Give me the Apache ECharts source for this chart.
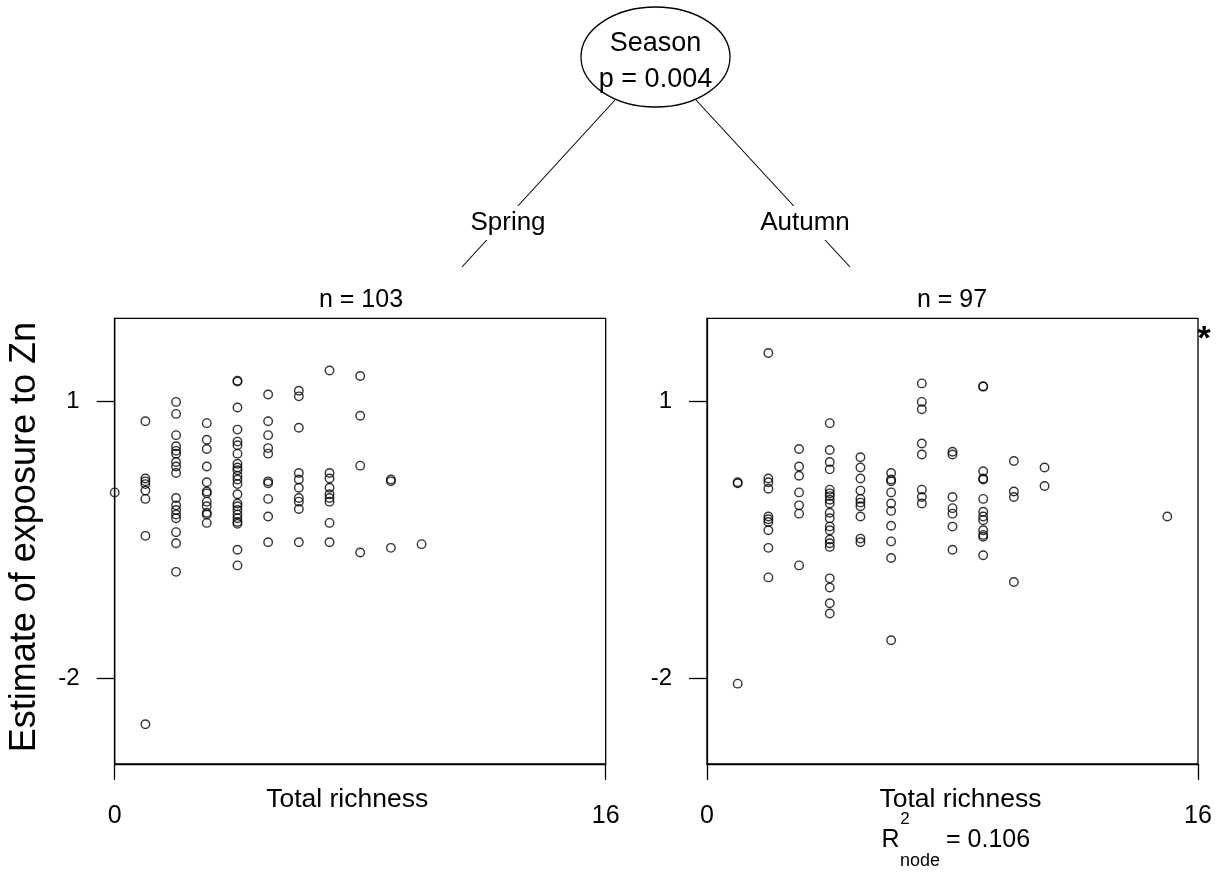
<!DOCTYPE html>
<html><head><meta charset="utf-8">
<script src="https://cdn.jsdelivr.net/npm/echarts@6/dist/echarts.min.js"></script>
<style>html,body{margin:0;padding:0;background:#fff}#c{width:1222px;height:877px}</style>
</head><body><div id="c"></div>
<script>
// ---- data ----
const xTicks = [0, 16];
const yTicks = [1, -2];
const springRichness = [0, 1, 2, 3, 4, 5, 6, 7, 8, 9, 10];
const springExposure = [
  [0.01],
  [0.78, 0.16, 0.13, 0.10, 0.03, -0.06, -0.46, -2.50],
  [0.99, 0.86, 0.63, 0.51, 0.46, 0.43, 0.34, 0.29, 0.22, -0.05, -0.13, -0.18, -0.23, -0.27, -0.42, -0.54, -0.85],
  [0.76, 0.58, 0.48, 0.29, 0.12, 0.02, 0.00, -0.09, -0.14, -0.21, -0.23, -0.32],
  [1.22, 1.21, 0.93, 0.69, 0.56, 0.52, 0.43, 0.32, 0.28, 0.25, 0.19, 0.15, 0.10, -0.01, -0.11, -0.14, -0.18, -0.23, -0.27, -0.31, -0.33, -0.61, -0.78],
  [1.07, 0.78, 0.63, 0.49, 0.43, 0.13, 0.11, -0.06, -0.25, -0.53],
  [1.11, 1.05, 0.71, 0.22, 0.15, 0.06, -0.05, -0.09, -0.17, -0.53],
  [1.33, 0.22, 0.16, 0.06, -0.01, -0.05, -0.09, -0.32, -0.53],
  [1.27, 0.84, 0.30, -0.64],
  [0.15, 0.13, -0.59],
  [-0.55]
];
const autumnRichness = [1, 2, 3, 4, 5, 6, 7, 8, 9, 10, 11, 15];
const autumnExposure = [
  [0.12, 0.11, -2.06],
  [1.52, 0.16, 0.12, 0.05, -0.25, -0.28, -0.31, -0.40, -0.59, -0.91],
  [0.48, 0.29, 0.19, 0.01, -0.13, -0.22, -0.78],
  [0.76, 0.47, 0.34, 0.26, 0.04, 0.00, -0.03, -0.07, -0.11, -0.21, -0.27, -0.36, -0.40, -0.50, -0.54, -0.58, -0.92, -1.02, -1.19, -1.30],
  [0.39, 0.28, 0.16, 0.03, -0.06, -0.10, -0.14, -0.25, -0.49, -0.53],
  [0.22, 0.15, 0.13, 0.01, -0.11, -0.19, -0.35, -0.52, -0.70, -1.59],
  [1.19, 0.99, 0.91, 0.54, 0.42, 0.04, -0.04, -0.11],
  [0.45, 0.42, -0.04, -0.16, -0.22, -0.36, -0.61],
  [1.16, 1.155, 0.24, 0.16, 0.15, -0.06, -0.20, -0.25, -0.29, -0.40, -0.45, -0.47, -0.67],
  [0.35, 0.02, -0.04, -0.96],
  [0.28, 0.08],
  [-0.25]
];
const nodeLabels = ['n = 103', 'n = 97'];
const splitLabels = ['Spring', 'Autumn'];

// ---- build ----
function pairs(xs, ys) {
  const out = [];
  xs.forEach((x, i) => ys[i].forEach(y => out.push([x, y])));
  return out;
}
const F = '"Liberation Sans", Arial, sans-serif';
const BLACK = '#000';

function grid(left) {
  return { left: left, top: 318.3, width: 491, height: 445.7, show: true,
    borderColor: BLACK, borderWidth: 1.3, backgroundColor: 'transparent',
    containLabel: false, outerBoundsMode: 'none' };
}
function xAxis(gi, pad) {
  return { gridIndex: gi, type: 'value', min: xTicks[0], max: xTicks[1], interval: xTicks[1] - xTicks[0],
    axisLine: { show: true, onZero: false, lineStyle: { color: BLACK, width: 1.3 } },
    axisTick: { show: true, length: 16, lineStyle: { color: BLACK, width: 1.3 } },
    axisLabel: { show: true, margin: 40, color: BLACK, fontSize: 25, fontFamily: F, showMinLabel: true, showMaxLabel: true },
    splitLine: { show: false },
    name: 'Total richness', nameLocation: 'middle', nameGap: 22, nameMoveOverlap: false,
    nameTextStyle: { color: BLACK, fontSize: 26.5, fontFamily: F, padding: pad } };
}
function yAxis(gi, withName) {
  const a = { gridIndex: gi, type: 'value', min: -2.93, max: 1.895,
    axisLine: { show: true, onZero: false, lineStyle: { color: BLACK, width: 1.3 } },
    axisTick: { show: true, length: 18, customValues: yTicks, lineStyle: { color: BLACK, width: 1.3 } },
    axisLabel: { show: true, margin: 35, customValues: yTicks, color: BLACK, fontSize: 24, fontFamily: F },
    splitLine: { show: false } };
  if (withName) {
    Object.assign(a, { name: 'Estimate of exposure to Zn', nameLocation: 'middle', nameGap: 72, nameRotate: 90,
      nameMoveOverlap: false, nameTextStyle: { color: BLACK, fontSize: 36, fontFamily: F, padding: [0, 0, 0, 8] } });
  }
  return a;
}
function scatter(i, data) {
  return { type: 'scatter', xAxisIndex: i, yAxisIndex: i, data: data, clip: false,
    symbol: 'circle', symbolSize: 8.5, silent: true,
    itemStyle: { color: 'rgba(0,0,0,0)', borderColor: BLACK, borderWidth: 1.4 } };
}
function txt(x, y, text, size, extra) {
  return Object.assign({ type: 'text', x: x, y: y, z: 10,
    style: Object.assign({ text: text, fill: BLACK, font: size + 'px ' + F, align: 'center', verticalAlign: 'middle' }, extra || {}) });
}

const chart = echarts.init(document.getElementById('c'), null, { renderer: 'canvas' });
chart.setOption({
  animation: false,
  backgroundColor: '#fff',
  grid: [grid(114.7), grid(707)],
  xAxis: [xAxis(0, [0, 26, 0, 0]), xAxis(1, [0, 0, 0, 16])],
  yAxis: [yAxis(0, true), yAxis(1, false)],
  series: [scatter(0, pairs(springRichness, springExposure)), scatter(1, pairs(autumnRichness, autumnExposure))],
  graphic: [
    { type: 'line', z: 1, shape: { x1: 615, y1: 100, x2: 462, y2: 267 }, style: { stroke: BLACK, lineWidth: 1.1 } },
    { type: 'line', z: 1, shape: { x1: 696, y1: 100, x2: 850, y2: 267 }, style: { stroke: BLACK, lineWidth: 1.1 } },
    { type: 'ellipse', z: 2, shape: { cx: 655.5, cy: 57, rx: 74.5, ry: 50 }, style: { fill: '#fff', stroke: BLACK, lineWidth: 1.3 } },
    txt(655.5, 44, 'Season', 27),
    txt(655.5, 80, 'p = 0.004', 27),
    txt(508, 223, splitLabels[0], 26, { backgroundColor: '#fff', padding: [4, 2] }),
    txt(805, 223, splitLabels[1], 26, { backgroundColor: '#fff', padding: [4, 2] }),
    txt(361, 300, nodeLabels[0], 25),
    txt(952, 300, nodeLabels[1], 25),
    txt(1204, 340, '*', 34, { font: 'bold 34px ' + F }),
    txt(890.5, 840, 'R', 25),
    txt(905, 819, '2', 17),
    txt(920, 861, 'node', 18),
    txt(946, 840, '= 0.106', 25, { align: 'left' })
  ]
});
</script>
</body></html>
